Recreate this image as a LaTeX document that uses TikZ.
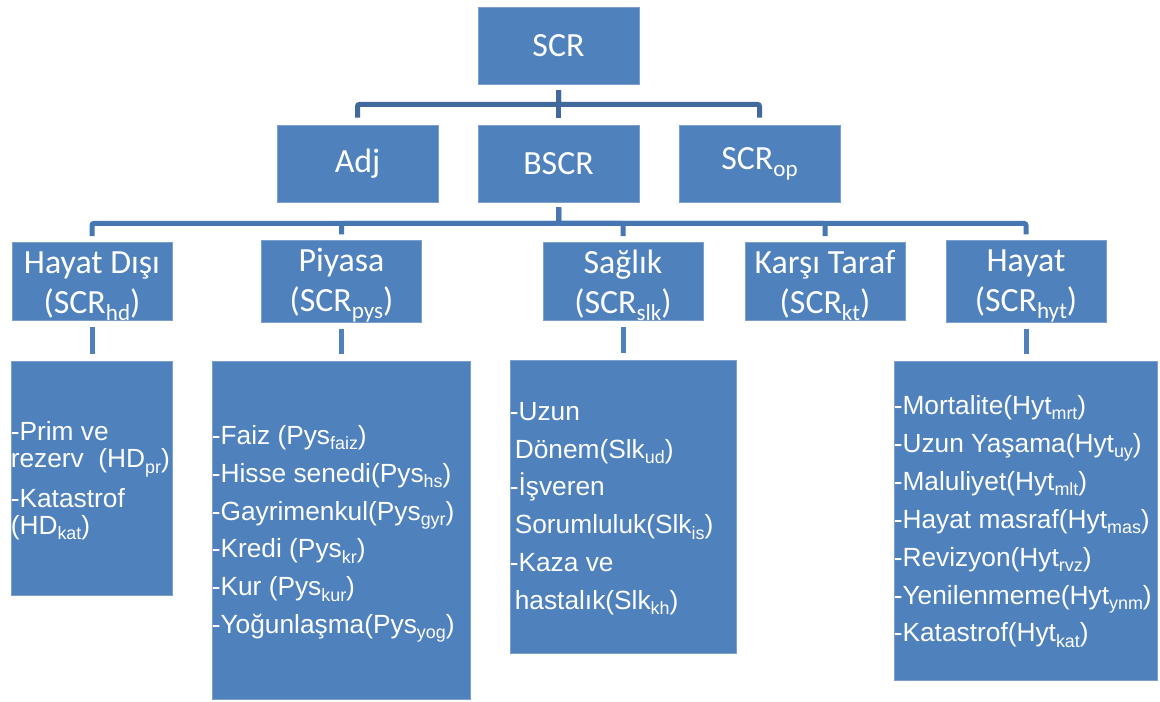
\documentclass[tikz,border=0pt]{standalone}
\usepackage{fontspec}
\setmainfont{Carlito}
\newfontfamily\arialf{Liberation Sans}
\definecolor{boxblue}{HTML}{4F81BD}
\definecolor{linkdark}{HTML}{41699C}
\definecolor{linkblue}{HTML}{4777B3}
\newcommand{\sbs}[1]{\raisebox{-0.2em}{\scalebox{0.68}{#1}}}
\newcommand{\fstrut}{\rule{0pt}{31bp}}
\tikzset{
  box/.style={fill=boxblue, draw=boxblue!75!white, line width=0.8bp, inner sep=0pt,
    text=white, font=\fontsize{34}{38}\selectfont, align=center},
  lvl/.style={box, minimum width=161bp, minimum height=77bp},
  lvlc/.style={box, minimum width=160bp, minimum height=77bp, font=\fontsize{34}{40}\selectfont},
  conn/.style={draw=linkblue, line width=5bp, rounded corners=2bp},
  dtext/.style={text=white, font=\arialf\fontsize{26.4}{38}\selectfont, align=left,
    inner sep=0pt, anchor=west}
}
\begin{document}
\begin{tikzpicture}[x=1bp, y=-1bp]
\useasboundingbox (0,0) rectangle (1160,702);
% level 1 and 2
\node[lvl] (scr) at (558.5,45.5) {SCR};
\node[lvl] (adj) at (357.5,163.5) {Adj};
\node[lvl] (bscr) at (558.5,163.5) {BSCR};
\node[lvl] (scrop) at (759.5,163.5) {SCR\sbs{op}};
% level 3
\node[lvlc] (hd) at (92,281.5) {\fstrut Hayat Dışı\\(SCR\sbs{hd})};
\node[lvlc] (pys) at (341.5,281.5) {\fstrut Piyasa\\(SCR\sbs{pys})};
\node[lvlc] (slk) at (623,281.5) {\fstrut Sağlık\\(SCR\sbs{slk})};
\node[lvlc] (kt) at (825,281.5) {\fstrut Karşı Taraf\\(SCR\sbs{kt})};
\node[lvlc] (hyt) at (1026,281.5) {\fstrut Hayat\\(SCR\sbs{hyt})};
% level 4 boxes
\node[box, minimum width=161bp, minimum height=234bp] (hdd) at (91.5,478) {};
\node[box, minimum width=258bp, minimum height=338bp] (pysd) at (341,530) {};
\node[box, minimum width=226bp, minimum height=293bp] (slkd) at (623,506.5) {};
\node[box, minimum width=263bp, minimum height=319bp] (hytd) at (1025.5,520.5) {};
% level 4 texts
\node[dtext, font=\arialf\fontsize{26.4}{27}\selectfont] (hdt) at ([yshift=-3bp]hdd.west)
  {-Prim ve\\rezerv~~(HD\sbs{pr})\\[11bp]-Katastrof\\(HD\sbs{kat})};
\node[dtext] (pyst) at ([yshift=-4bp]pysd.west)
  {-Faiz (Pys\sbs{faiz})\\-Hisse senedi(Pys\sbs{hs})\\-Gayrimenkul(Pys\sbs{gyr})\\-Kredi (Pys\sbs{kr})\\-Kur (Pys\sbs{kur})\\-Yoğunlaşma(Pys\sbs{yog})};
\node[dtext] (slkt) at ([yshift=-2bp]slkd.west)
  {-Uzun\\\hspace*{5bp}Dönem(Slk\sbs{ud})\\-İşveren\\\hspace*{5bp}Sorumluluk(Slk\sbs{is})\\-Kaza ve\\\hspace*{5bp}hastalık(Slk\sbs{kh})};
\node[dtext] (hytt) at ([yshift=-1bp]hytd.west)
  {-Mortalite(Hyt\sbs{mrt})\\-Uzun Yaşama(Hyt\sbs{uy})\\-Maluliyet(Hyt\sbs{mlt})\\-Hayat masraf(Hyt\sbs{mas})\\-Revizyon(Hyt\sbs{rvz})\\-Yenilenmeme(Hyt\sbs{ynm})\\-Katastrof(Hyt\sbs{kat})};
% connectors level 1 -> 2
\draw[conn, draw=linkdark, shorten <=6bp, shorten >=7bp] (scr.south) -- ++(0,20) -| (adj.north);
\draw[conn, draw=linkdark, shorten <=6bp, shorten >=7bp] (scr.south) -- ++(0,20) -| (scrop.north);
\draw[conn, draw=linkdark, shorten <=6bp, shorten >=7bp] (scr.south) -- (bscr.north);
% connectors level 2 -> 3
\foreach \t in {hd,pys,slk,kt,hyt}
  \draw[conn, shorten <=5bp, shorten >=6bp] (bscr.south) -- ++(0,21) -| (\t.north);
% connectors level 3 -> 4
\draw[conn, draw=boxblue, shorten <=6bp, shorten >=7bp] (hd.south) -- (hd.south |- hdd.north);
\draw[conn, draw=boxblue, shorten <=6bp, shorten >=7bp] (pys.south) -- (pys.south |- pysd.north);
\draw[conn, draw=boxblue, shorten <=6bp, shorten >=7bp] (slk.south) -- (slk.south |- slkd.north);
\draw[conn, draw=boxblue, shorten <=6bp, shorten >=7bp] (hyt.south) -- (hyt.south |- hytd.north);
\end{tikzpicture}
\end{document}
